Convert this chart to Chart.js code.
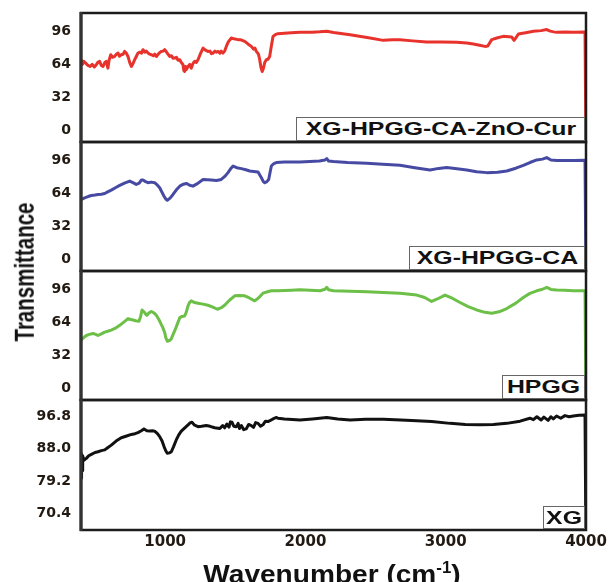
<!DOCTYPE html>
<html><head><meta charset="utf-8">
<script src="https://cdn.jsdelivr.net/npm/chart.js@4/dist/chart.umd.min.js"></script>
<style>
html,body{margin:0;padding:0;background:#fff;}
#wrap{position:relative;width:609px;height:582px;overflow:hidden;background:#fff;}
canvas{position:absolute;left:0;}
.lbl{position:absolute;background:#fff;border:1px solid #666;box-sizing:border-box;
 font-family:"Liberation Sans",Arial,sans-serif;font-weight:bold;font-size:18px;color:#111;
 display:flex;align-items:center;justify-content:center;overflow:hidden;z-index:5;}
.lbl span{display:inline-block;transform:scaleX(1.38);white-space:nowrap;line-height:18px;}
#ytitle{position:absolute;left:24px;top:272px;white-space:nowrap;font-family:"Liberation Sans",Arial,sans-serif;
 font-weight:bold;font-size:20.5px;line-height:22px;color:#111;transform:translate(-50%,-50%) rotate(-90deg) scaleY(1.35);z-index:5;}
#xtitle{position:absolute;left:332px;top:561px;white-space:nowrap;font-family:"Liberation Sans",Arial,sans-serif;
 font-weight:bold;font-size:26px;line-height:26px;color:#111;transform:translateX(-50%) scaleX(1.08);z-index:5;}
#xtitle sup{font-size:60%;vertical-align:10px;line-height:0;}
</style>
</head>
<body>
<div id="wrap">
  <canvas id="c1" width="609" height="135" style="top:10px"></canvas>
  <canvas id="c2" width="609" height="135" style="top:139px"></canvas>
  <canvas id="c3" width="609" height="135" style="top:268px"></canvas>
  <canvas id="c4" width="609" height="163" style="top:397px"></canvas>
  <div class="lbl" style="left:296px;top:117px;width:289px;height:24px"><span>XG-HPGG-CA-ZnO-Cur</span></div>
  <div class="lbl" style="left:409px;top:246px;width:176px;height:24px"><span>XG-HPGG-CA</span></div>
  <div class="lbl" style="left:502px;top:375px;width:83px;height:24px"><span>HPGG</span></div>
  <div class="lbl" style="left:543px;top:506px;width:42px;height:23px"><span>XG</span></div>
  <div id="ytitle">Transmittance</div>
  <div id="xtitle">Wavenumber (cm<sup>-1</sup>)</div>
</div>
<script>
// ---- data ----
const xTicks = [1000, 2000, 3000, 4000];
const yTicksUpper = [0, 32, 64, 96];
const yTicksXG = [70.4, 79.2, 88.0, 96.8];

const cmpWn = [400,410,420,435,450,465,480,495,509,520,533,545,557,570,580,592,600,612,625,640,652,664,675,687,700,711,723,735,747,759,771,783,795,806,820,832,842,855,866,878,890,901,915,925,937,950,961,972,985,997,1010,1020,1032,1045,1056,1068,1080,1092,1104,1115,1127,1133,1139,1145,1151,1163,1175,1186,1198,1211,1222,1234,1250,1270,1287,1305,1320,1330,1341,1355,1365,1377,1390,1400,1412,1424,1436,1450,1472,1490,1519,1540,1567,1590,1614,1630,1640,1650,1665,1674,1683,1692,1700,1710,1721,1733,1745,1757,1769,1785,1804,1850,1900,1961,2050,2100,2152,2200,2318,2450,2555,2620,2674,2764,2864,2970,3078,3150,3197,3250,3280,3300,3328,3370,3411,3450,3470,3487,3500,3518,3570,3625,3680,3720,3745,3770,3791,3850,3910,3993,4000];
const cmpT = [68.6,64,67,65,63,62,64,61.5,63.7,66,67,63,62,66,67,60.4,68,73.5,71,71.8,74,75.1,72,73.5,74,76.7,75,71.8,66,62,65,68.6,72,75.1,76,75,78.4,76,77,75.1,74,73.5,72.5,74,71.8,74,75.5,76.7,77,78.4,76,74,71.8,72.5,70,70.2,71,68,68.6,66,63.7,58,57.1,62,59,62,64,60.4,65,67,66,68.6,74,80,78,76.7,77,74.5,75.1,77,76,76.7,75,77,75.1,77,81.6,86,89.8,89,88.2,88,86.5,84,81.6,79,80,76.7,74,68.6,61,57.1,60,66,68.6,69,71.8,82,91.4,93,94,94.5,95,95.3,95.5,95.8,96.3,95.2,93,90,87.5,88.2,88.2,87,85.9,85.8,85.6,85,84,82.5,81.6,82,88.2,90,91.4,91,90.8,87.5,90,93.7,95,96.3,97,98,96.5,95.8,95.3,95.6,95.3,95.7,-20];

const caWn = [400,426,450,474,500,521,545,569,590,616,645,676,710,747,770,794,815,830,842,860,878,900,925,945,961,980,992,1005,1015,1035,1056,1080,1104,1130,1151,1175,1198,1230,1270,1300,1329,1365,1400,1425,1448,1470,1484,1510,1543,1575,1603,1630,1662,1685,1700,1710,1725,1738,1748,1757,1775,1792,1850,1961,2100,2140,2152,2165,2199,2300,2437,2550,2674,2780,2888,2950,3007,3080,3150,3220,3292,3370,3435,3500,3553,3600,3649,3690,3720,3750,3791,3850,3910,3993,4000];
const caT = [57.6,59.3,60.5,61.5,62,62.5,62.8,63.5,65,66.7,69,71.3,73.5,75.5,74,72.3,73.5,76.5,76.5,75,73.9,74.5,73.9,71.5,69,64,60.8,58,56.9,59,62.5,67,70.6,72.5,73.2,71.5,70.6,73,77.1,76.8,76.5,76,77.1,80,83.7,88,90.1,88.5,87.6,86.5,85.3,84.8,84.3,79,75,73.9,75,77.1,84,90.1,92.5,93.5,94,94,95,96,97.3,95,94.4,93.5,92.8,91.8,90.8,88.5,86.2,87.8,88.6,87.5,86.2,84.5,83.7,84,85.3,88,90.8,93.5,96,96.8,98.3,96,95.4,95.5,95.4,95.7,-20];

const hpWn = [400,420,438,460,486,505,521,545,569,590,616,645,676,705,735,755,771,790,813,825,835,845,854,862,870,885,901,920,937,955,972,985,997,1005,1015,1030,1044,1058,1072,1088,1104,1120,1139,1150,1163,1175,1186,1210,1234,1270,1305,1340,1372,1400,1424,1460,1496,1530,1567,1600,1638,1665,1697,1730,1757,1804,1900,1961,2104,2140,2152,2165,2200,2437,2674,2793,2850,2900,2940,2995,3050,3102,3160,3221,3280,3328,3380,3435,3500,3553,3600,3649,3690,3720,3750,3791,3850,3910,3993,4000];
const hpT = [46.8,49.5,51.4,52.5,53.4,52.5,51.4,53,54.7,55.5,56.7,58.5,61.3,64.5,67.9,67,66.5,65.8,65.2,70,76.3,75,73.8,72,71.1,73.5,74.8,73.5,71.1,67,62.3,58.5,54.1,49,45.8,46.5,48.2,53,57.3,63,68.8,70,70.4,74,80.3,84,85.2,83.5,82.9,82,80.9,79,77,78.5,80.9,86,90.1,90.3,90.1,88,85.2,88,92.7,94,95,95,95.5,96,95,96.5,98.4,96,95,94,92.7,90.8,88.5,84.6,87,90.8,87.5,83.6,79.5,76.3,74,73.1,74.5,77.7,83,88.5,92.5,95,96.5,98.4,96.3,95.7,95.5,95,95,-20];

const xgWn = [400,404,408,412,420,438,455,474,500,521,545,569,590,616,650,687,720,759,785,806,830,849,870,890,910,925,945,961,978,992,1005,1015,1030,1044,1060,1079,1097,1115,1140,1163,1180,1191,1210,1234,1260,1293,1320,1353,1390,1410,1424,1440,1455,1465,1476,1490,1507,1520,1530,1543,1560,1578,1595,1614,1630,1645,1662,1680,1697,1715,1733,1750,1769,1790,1804,1850,1961,2050,2152,2230,2318,2430,2555,2680,2793,2900,3031,3140,3245,3340,3435,3530,3600,3625,3650,3680,3700,3730,3750,3767,3790,3820,3850,3880,3910,3950,3993,4000];
const xgT = [80,86.5,82,86,84.8,85.3,86,86.4,86.9,87.1,87.4,87.6,88.2,88.9,90,90.9,91.3,91.8,92,92.3,92.8,93.3,92.8,92.7,92.8,92.7,92,91.2,90,88.5,87.3,86.7,86.8,87.1,88.5,90.3,91.7,92.7,93.6,94.4,95,95.1,94.3,93.9,94,94.2,94,93.6,93.4,94.2,93.6,94.6,93.8,95.2,95.1,94,93.9,94.8,93.4,94.2,93.1,93.3,94.5,94.2,93.7,95,94.8,94,94.4,95.4,95.3,95.6,96,96.4,96.2,96,95.7,96,96.4,96,95.7,95.9,95.9,95.7,95.5,95.3,94.8,94.5,94.4,94.5,94.8,95.4,96.2,95.8,96.6,95.7,96.5,95.6,96.6,96,96.8,96.2,96.9,96.6,96.8,97,97.1,60];

// ---- drawing ----
const boxPlugin = {
  id: 'box',
  afterDatasetsDraw(chart) {
    const a = chart.chartArea, ctx = chart.ctx;
    ctx.save();
    ctx.strokeStyle = '#1c1c1c';
    ctx.lineWidth = 2.5;
    ctx.strokeRect(a.left, a.top, a.right - a.left, a.bottom - a.top);
    ctx.lineWidth = 3.2;
    ctx.strokeStyle = '#333';
    ctx.beginPath(); ctx.moveTo(a.left, a.top - 1); ctx.lineTo(a.left, a.bottom + 1); ctx.stroke();
    ctx.restore();
  }
};

function makeChart(id, wn, t, color, yMin, yMax, yTicks, decimals, showX) {
  const pts = wn.map((w, i) => ({ x: w, y: t[i] }));
  return new Chart(document.getElementById(id), {
    type: 'line',
    data: { datasets: [{ data: pts, borderColor: color, borderWidth: 3, pointRadius: 0,
      tension: 0, fill: false, borderJoinStyle: 'round', borderCapStyle: 'round' }] },
    options: {
      responsive: false, animation: false, events: [],
      layout: { padding: { left: 0, right: 23, top: 3, bottom: showX ? 0 : 3 } },
      plugins: { legend: { display: false }, tooltip: { enabled: false } },
      scales: {
        x: {
          type: 'linear', min: 400, max: 4000, display: showX,
          afterBuildTicks: s => { s.ticks = xTicks.map(v => ({ value: v })); },
          afterFit: s => { s.height = showX ? 30 : 0; s.paddingLeft = 0; s.paddingRight = 0; },
          grid: { display: false, drawTicks: false }, border: { display: false },
          ticks: { padding: 3, autoSkip: false, maxRotation: 0, color: '#221a12',
            font: { family: 'DejaVu Sans', weight: 'bold', size: 15 },
            callback: v => String(v) }
        },
        y: {
          type: 'linear', min: yMin, max: yMax,
          afterBuildTicks: s => { s.ticks = yTicks.map(v => ({ value: v })); },
          afterFit: s => { s.width = 81; s.paddingTop = 0; s.paddingBottom = 0; },
          grid: { display: false, drawTicks: false }, border: { display: false },
          ticks: { padding: 10, color: '#221a12',
            font: { family: 'DejaVu Sans', weight: 'bold', size: 14 },
            callback: v => Number(v).toFixed(decimals) }
        }
      }
    },
    plugins: [boxPlugin]
  });
}

makeChart('c1', cmpWn, cmpT, '#e8322c', -11.7, 114.2, yTicksUpper, 0, false);
makeChart('c2', caWn, caT, '#474aa3', -11.7, 113.4, yTicksUpper, 0, false);
makeChart('c3', hpWn, hpT, '#6cbf47', -11.5, 114.3, yTicksUpper, 0, false);
makeChart('c4', xgWn, xgT, '#111111', 65.87, 101.14, yTicksXG, 1, true);
</script>
</body></html>
